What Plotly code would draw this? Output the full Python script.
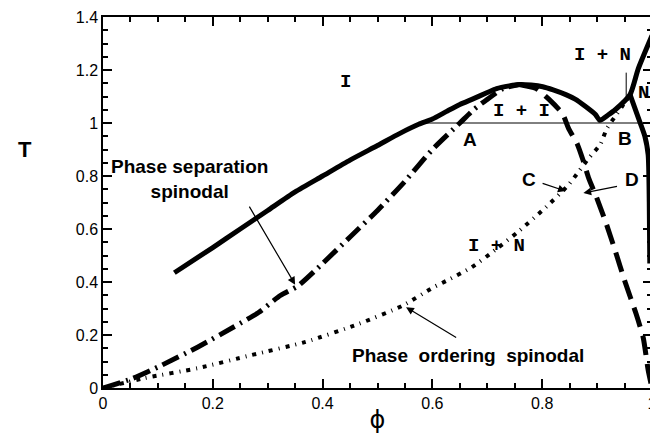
import plotly.graph_objects as go

# ---- data ----
# binodal (thick solid), continuing into the I+N boundary
phi_binodal = [0.13, 0.2, 0.25, 0.3, 0.35, 0.4, 0.45, 0.5, 0.54, 0.575, 0.6, 0.626, 0.65,
               0.675, 0.7, 0.717, 0.74, 0.758, 0.78, 0.801, 0.82, 0.843, 0.86, 0.879, 0.897,
               0.905, 0.92, 0.933, 0.96, 0.975, 1.0]
T_binodal = [0.435, 0.53, 0.6, 0.67, 0.74, 0.8, 0.86, 0.915, 0.96, 0.995, 1.015, 1.044, 1.07,
             1.092, 1.115, 1.13, 1.14, 1.145, 1.143, 1.137, 1.125, 1.107, 1.09, 1.062, 1.032,
             1.01, 1.03, 1.05, 1.107, 1.205, 1.33]

# N boundary (thick solid, right edge)
phi_nematic = [0.96, 0.975, 0.987, 0.993, 0.995, 0.996]
T_nematic = [1.107, 1.02, 0.95, 0.88, 0.7, 0.47]

# phase separation spinodal, left branch (dash-dot)
phi_sep_left = [0.0, 0.055, 0.107, 0.173, 0.238, 0.284, 0.323, 0.355, 0.4, 0.45, 0.5, 0.55,
                0.6, 0.65, 0.675, 0.699, 0.729, 0.758]
T_sep_left = [0.0, 0.037, 0.086, 0.155, 0.23, 0.286, 0.349, 0.385, 0.47, 0.57, 0.67, 0.78,
              0.9, 1.0, 1.05, 1.088, 1.13, 1.145]

# phase separation spinodal, right branch (dashed)
phi_sep_right = [0.758, 0.789, 0.812, 0.837, 0.848, 0.864, 0.875, 0.885, 0.897, 0.915, 0.933,
                 0.951, 0.971, 0.984, 0.993, 1.0]
T_sep_right = [1.145, 1.13, 1.09, 1.035, 0.98, 0.92, 0.856, 0.79, 0.73, 0.63, 0.518, 0.4,
               0.28, 0.19, 0.068, 0.0]

# phase ordering spinodal (dotted)
phi_order = [0.0, 0.075, 0.173, 0.27, 0.369, 0.467, 0.545, 0.602, 0.626, 0.671, 0.717, 0.758,
             0.803, 0.846, 0.867, 0.885, 0.906, 0.918, 0.933, 0.948, 0.958]
T_order = [0.0, 0.037, 0.075, 0.124, 0.174, 0.243, 0.31, 0.38, 0.405, 0.455, 0.525, 0.593,
           0.675, 0.762, 0.818, 0.868, 0.92, 0.98, 1.025, 1.07, 1.1]

# thin three-phase line and label pointer
phi_triple = [0.575, 1.0]
T_triple = [1.0, 1.0]
phi_pointer = [0.953, 0.953]
T_pointer = [1.19, 1.09]

x_ticks = [0, 0.2, 0.4, 0.6, 0.8, 1]
x_ticklabels = ["0", "0.2", "0.4", "0.6", "0.8", "1"]
y_ticks = [0, 0.2, 0.4, 0.6, 0.8, 1, 1.2, 1.4]
y_ticklabels = ["0", "0.2", "0.4", "0.6", "0.8", "1", "1.2", "1.4"]

fig = go.Figure()

def line(x, y, width, dash="solid"):
    fig.add_trace(go.Scatter(x=x, y=y, mode="lines", showlegend=False, hoverinfo="skip",
                             line=dict(color="black", width=width, dash=dash, shape="spline",
                                       smoothing=0.6)))

line(phi_triple, T_triple, 1)
line(phi_pointer, T_pointer, 1)
line(phi_order, T_order, 4, "4px,6px,1px,6px")
line(phi_sep_left, T_sep_left, 5, "18px,6px,2px,6px")
line(phi_sep_right, T_sep_right, 5, "20px,9px")
line(phi_binodal, T_binodal, 5)
line(phi_nematic, T_nematic, 5)

mono = dict(family="Liberation Mono", size=19, color="black")
bold = dict(family="Liberation Sans", size=19, color="black")
letter = dict(family="Liberation Sans", size=19, color="black")

def label(x, y, text, font):
    fig.add_annotation(x=x, y=y, xref="x", yref="y", text=text, showarrow=False, font=font)

label(0.442, 1.156, "<b>I</b>", mono)
label(0.762, 1.044, "<b>I + I</b>", mono)
label(0.717, 0.537, "<b>I + N</b>", mono)
label(0.91, 1.258, "<b>I + N</b>", mono)
label(0.985, 1.115, "<b>N</b>", mono)
label(0.668, 0.938, "<b>A</b>", letter)
label(0.951, 0.942, "<b>B</b>", letter)
label(0.776, 0.788, "<b>C</b>", letter)
label(0.964, 0.788, "<b>D</b>", letter)
label(0.157, 0.79, "<b>Phase separation<br>spinodal</b>", bold)
label(0.665, 0.124, "<b>Phase  ordering  spinodal</b>", bold)

def arrow(x0, y0, x1, y1):
    fig.add_annotation(x=x1, y=y1, ax=x0, ay=y0, xref="x", yref="y", axref="x", ayref="y",
                       text="", showarrow=True, arrowhead=2, arrowsize=1.3, arrowwidth=1.2,
                       arrowcolor="black")

arrow(0.265, 0.69, 0.35, 0.39)
arrow(0.646, 0.187, 0.552, 0.305)
arrow(0.798, 0.774, 0.843, 0.743)
arrow(0.939, 0.762, 0.875, 0.736)

axis_common = dict(showline=True, linecolor="black", linewidth=1.5, mirror="allticks",
                   ticks="inside", ticklen=9, tickwidth=1.5, tickcolor="black",
                   showgrid=False, zeroline=False, ticklabeloverflow="allow",
                   tickfont=dict(family="Liberation Sans", size=16, color="black"),
                   minor=dict(ticks="inside", ticklen=5, tickwidth=1.5, tickcolor="black",
                              dtick=0.05, showgrid=False))

fig.update_xaxes(range=[0, 1], tickvals=x_ticks, ticktext=x_ticklabels,
                 title=dict(text="ϕ", font=dict(family="DejaVu Sans", size=24, color="black"),
                            standoff=0),
                 **axis_common)
fig.update_yaxes(range=[0, 1.4], tickvals=y_ticks, ticktext=y_ticklabels, **axis_common)

# y-axis title placed like the reference (left of the tick labels, near T = 0.9)
fig.add_annotation(x=(15 - 103) / 554, y=0.9, xref="paper", yref="y", text="<b>T</b>",
                   showarrow=False,
                   font=dict(family="Liberation Sans", size=22, color="black"))

# page body adds an 8px offset, so the figure is sized to fit the 658x442 window
fig.update_layout(width=650, height=426, margin=dict(l=95, r=1, t=7, b=46),
                  plot_bgcolor="white", paper_bgcolor="white")

fig.write_html("out.html")
